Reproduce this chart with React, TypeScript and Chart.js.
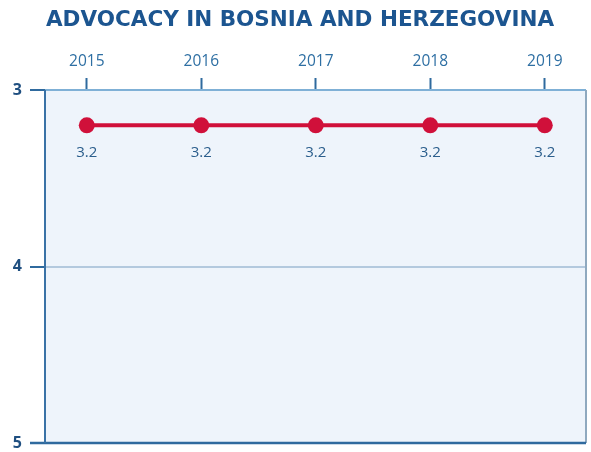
import React, { useEffect, useRef } from "react";
import { Chart, registerables } from "chart.js";

Chart.register(...registerables);

const titleText = "ADVOCACY IN BOSNIA AND HERZEGOVINA";
const years = [2015, 2016, 2017, 2018, 2019];
const scores = [3.2, 3.2, 3.2, 3.2, 3.2];
const yTicks = [3, 4, 5];

const darkBlue = "#2f6a9e";
const lineRed = "#d0103a";

const decor = {
  id: "decor",
  beforeDraw(chart: any) {
    const { ctx, chartArea: a } = chart;
    ctx.save();
    ctx.fillStyle = "#eef4fb";
    ctx.fillRect(a.left, a.top, a.right - a.left, a.bottom - a.top);
    ctx.restore();
  },
  afterDatasetsDraw(chart: any) {
    const { ctx, chartArea: a } = chart;
    ctx.save();
    ctx.strokeStyle = "#7fb0d6";
    ctx.lineWidth = 2;
    ctx.beginPath();
    ctx.moveTo(a.left, a.top);
    ctx.lineTo(a.right, a.top);
    ctx.stroke();
    ctx.strokeStyle = "#8fa9bf";
    ctx.beginPath();
    ctx.moveTo(a.right, a.top);
    ctx.lineTo(a.right, a.bottom);
    ctx.stroke();
    ctx.strokeStyle = "#2f6a9e";
    ctx.lineWidth = 2.5;
    ctx.beginPath();
    ctx.moveTo(a.left - 15, a.bottom);
    ctx.lineTo(a.right, a.bottom);
    ctx.stroke();
    ctx.strokeStyle = "#3a72a6";
    ctx.lineWidth = 2;
    ctx.beginPath();
    ctx.moveTo(a.left, a.top);
    ctx.lineTo(a.left, a.bottom);
    ctx.stroke();

    const meta = chart.getDatasetMeta(0);
    ctx.fillStyle = "#2b5e8c";
    ctx.font = "15px 'Open Sans', sans-serif";
    ctx.textAlign = "center";
    ctx.textBaseline = "middle";
    meta.data.forEach((pt: any, i: number) => {
      ctx.fillText(String(scores[i]), pt.x, pt.y + 27);
    });

    ctx.fillStyle = "#1c5590";
    ctx.font = "bold 21.5px 'DejaVu Sans', sans-serif";
    ctx.textAlign = "center";
    ctx.textBaseline = "middle";
    ctx.fillText(titleText, 300, 20);
    ctx.restore();
  },
};

const zeroPad = (s: any) => {
  s.paddingTop = 0;
  s.paddingBottom = 0;
  s.paddingLeft = 0;
  s.paddingRight = 0;
};

export default function App() {
  const ref = useRef<HTMLCanvasElement | null>(null);
  useEffect(() => {
    if (!ref.current) return;
    const chart = new Chart(ref.current, {
      type: "line",
      data: {
        datasets: [
          {
            data: years.map((y, i) => ({ x: y, y: scores[i] })),
            borderColor: lineRed,
            backgroundColor: lineRed,
            borderWidth: 4,
            pointRadius: 8,
            pointHoverRadius: 8,
            pointBackgroundColor: lineRed,
            pointBorderWidth: 0,
          },
        ],
      },
      options: {
        animation: false,
        responsive: false,
        devicePixelRatio: 1,
        layout: { autoPadding: false, padding: { left: 0, right: 5, top: 0, bottom: 9 } },
        plugins: { legend: { display: false }, tooltip: { enabled: false }, title: { display: false } },
        scales: {
          x: {
            type: "linear",
            position: "top",
            min: 2014.635,
            max: 2019.36,
            afterBuildTicks: (s: any) => {
              s.ticks = years.map((v) => ({ value: v }));
            },
            afterFit: (s: any) => {
              s.height = 90;
              zeroPad(s);
            },
            border: { display: false },
            grid: {
              drawOnChartArea: false,
              drawTicks: true,
              tickLength: 12,
              tickColor: darkBlue,
              tickWidth: 2,
            },
            ticks: {
              padding: 7,
              color: "#2e6fa3",
              font: { family: "'Open Sans', sans-serif", size: 15.5 },
              callback: (v: any) => String(v),
            },
          },
          y: {
            type: "linear",
            reverse: true,
            min: 3,
            max: 5,
            afterBuildTicks: (s: any) => {
              s.ticks = yTicks.map((v) => ({ value: v }));
            },
            afterFit: (s: any) => {
              s.width = 45;
              zeroPad(s);
            },
            border: { display: false },
            grid: {
              drawOnChartArea: true,
              color: (c: any) => (c.tick && c.tick.value === 4 ? "#b3c9de" : "rgba(0,0,0,0)"),
              lineWidth: 2,
              drawTicks: true,
              tickLength: 15,
              tickColor: darkBlue,
              tickWidth: 2,
            },
            ticks: {
              padding: 8,
              color: "#1f4f80",
              font: { family: "'Open Sans', sans-serif", size: 16, weight: "bold" },
              callback: (v: any) => String(v),
            },
          },
        },
      },
      plugins: [decor],
    });
    return () => chart.destroy();
  }, []);
  return (
    <div style={{ position: "fixed", left: 0, top: 0, width: 591, height: 452, background: "#fff" }}>
      <canvas ref={ref} width={591} height={452} style={{ display: "block" }} />
    </div>
  );
}
